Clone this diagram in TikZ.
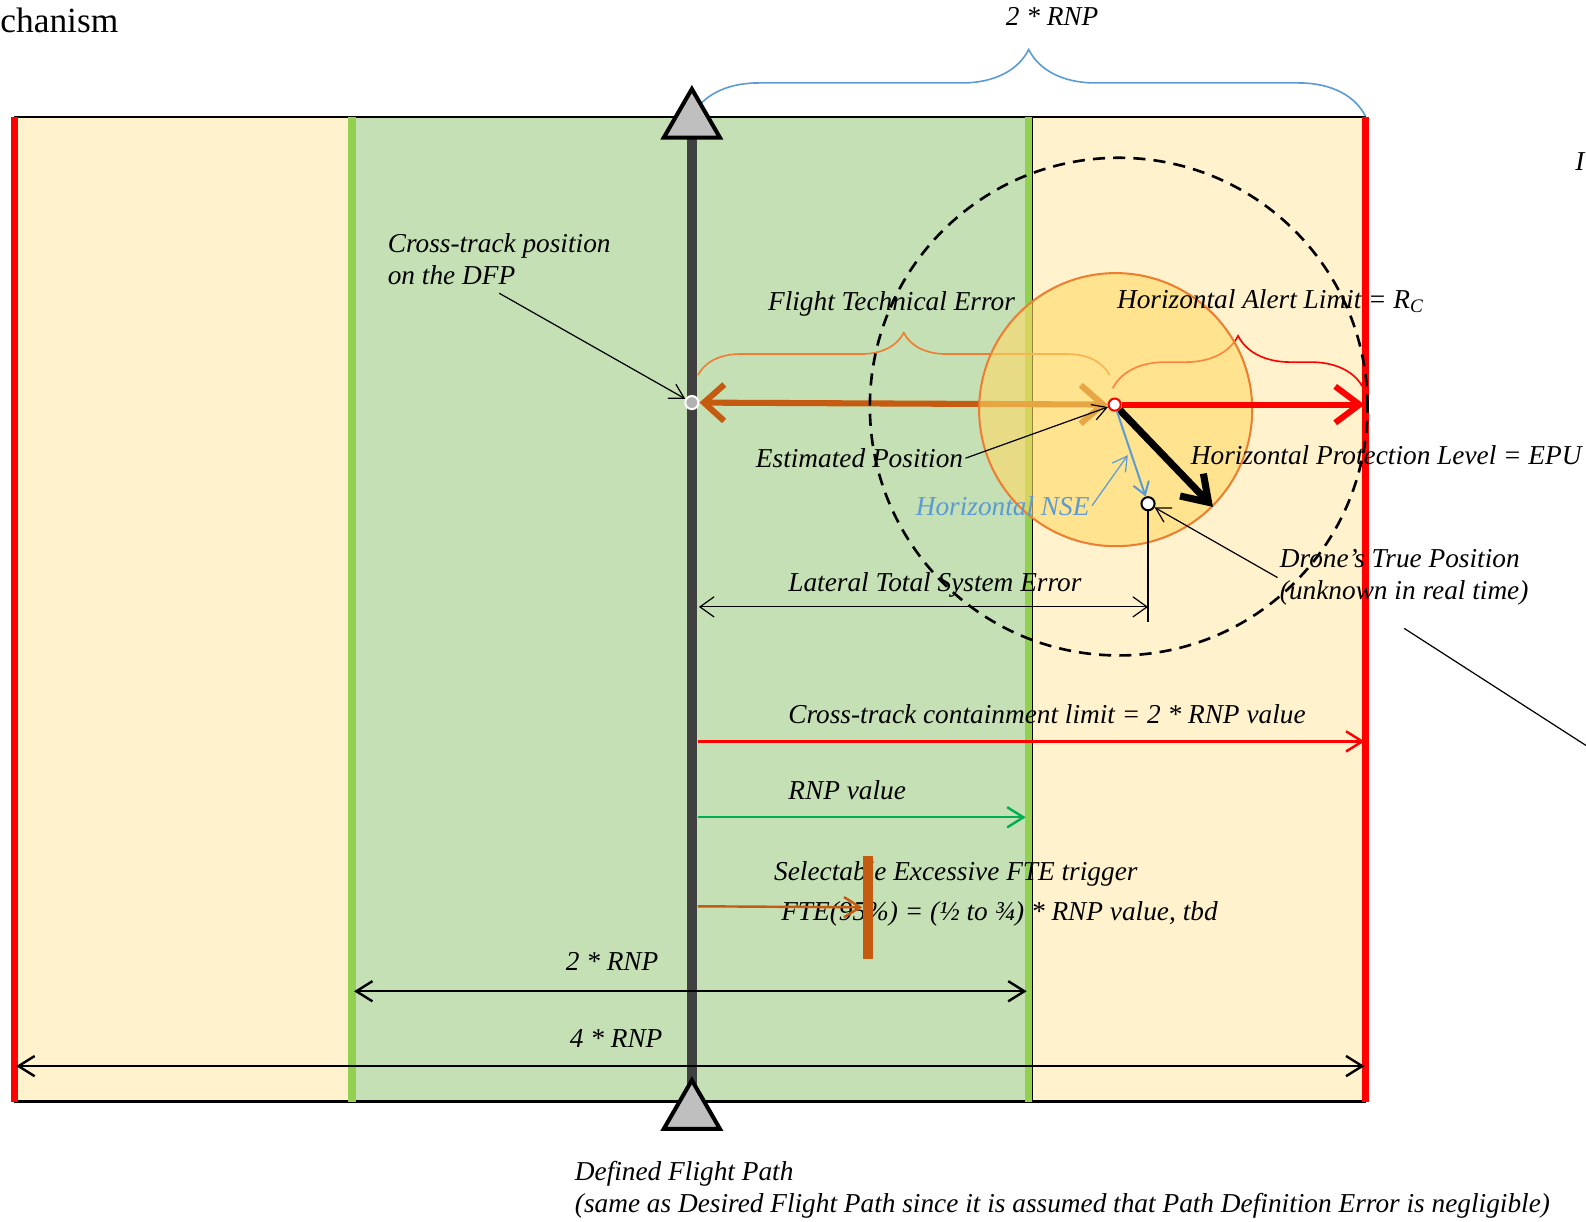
\documentclass[tikz,border=0pt]{standalone}
\usepackage{fontspec}
\setmainfont{Liberation Serif}
\usepackage{xcolor}
\usepackage{tikz}
\usetikzlibrary{positioning, arrows.meta, shapes.geometric, decorations.pathreplacing}
\definecolor{PaleYellow}{RGB}{255,242,204}
\definecolor{PaleGreen}{RGB}{197,224,180}
\definecolor{BarGreen}{RGB}{146,208,80}
\definecolor{PathGray}{RGB}{64,64,64}
\definecolor{TriGray}{RGB}{191,191,191}
\definecolor{DarkOrange}{RGB}{197,90,17}
\definecolor{RingOrange}{RGB}{237,125,49}
\definecolor{HplYellow}{RGB}{255,217,102}
\definecolor{NseBlue}{RGB}{91,155,213}
\definecolor{RnpGreen}{RGB}{0,176,80}
\tikzset{
  lbl/.style={font=\fontsize{13.5}{16}\selectfont\itshape, inner sep=1pt, align=left, anchor=west},
  lead/.style={-{Straight Barb[length=7pt,width=8pt]}, line width=0.6pt},
  dimarr/.style={{Straight Barb[length=8pt,width=10pt]}-{Straight Barb[length=8pt,width=10pt]}, line width=1.2pt},
  onearr/.style={-{Straight Barb[length=8pt,width=10pt]}, line width=1.2pt},
  bar/.style={line width=3.5pt},
  brc/.style={decorate, line width=0.8pt},
  ptmark/.style={circle, inner sep=0pt, minimum size=6.5pt, line width=1pt},
  dfptri/.style={regular polygon, regular polygon sides=3, minimum size=32pt, inner sep=0pt,
    fill=TriGray, draw=black, line width=2pt},
}

\begin{document}
\begin{tikzpicture}[x=0.5pt, y=-0.5pt,
        hplring/.style={circle, minimum size=135pt, inner sep=0pt, fill=HplYellow, fill opacity=0.6,
          draw=RingOrange, line width=1pt},
        dashring/.style={circle, minimum size=246pt, inner sep=0pt, draw, line width=1.3pt,
          dash pattern=on 6pt off 4pt}]
  \useasboundingbox (0,0) rectangle (1568,1208);
  % corridor
  \fill[PaleYellow] (14,116) rectangle (348,1089);
  \fill[PaleGreen] (348,116) rectangle (1019,1089);
  \fill[PaleYellow] (1019,116) rectangle (1350,1089);
  \draw[line width=1pt] (14,116) -- (1350,116);
  \draw[line width=1pt] (14,1089) -- (1350,1089);
  \draw[line width=0.7pt] (1021,116) -- (1021,1089);
  \draw[bar, red] (14,116) -- (14,1089);
  \draw[bar, red] (1350,116) -- (1350,1089);
  \draw[bar, BarGreen] (348,116) -- (348,1089);
  \draw[bar, BarGreen] (1017,116) -- (1017,1089);

  \coordinate (dfptop) at (684,120);
  \coordinate (dfpbot) at (684,1100);
  \draw[line width=5pt, PathGray] (dfptop) -- (dfpbot);

  % braces
  \draw[brc, NseBlue, decoration={brace, amplitude=33pt}] (684,115) -- (1350,115);
  \draw[brc, RingOrange, decoration={brace, amplitude=21pt}] (690,371) -- (1097,371);
  \draw[brc, red, decoration={brace, amplitude=26pt}] (1100,384) -- (1348,384);

  \node[ptmark, fill=gray!60, draw=white] (xt) at (684,398) {};
  \node[ptmark, minimum size=6pt] (est) at (1102,400) {};
  \coordinate (halend) at (1349,400);

  \draw[line width=3pt, DarkOrange, {Straight Barb[length=11pt,width=19pt]}-{Straight Barb[length=10pt,width=18pt]}]
    (est) -- (xt);
  \node[hplring] (hpl) at (1103,405) {};
  \draw[line width=3pt, red, -{Straight Barb[length=12pt,width=18pt]}] (est) -- (halend);
  \node[dashring] (ring) at (1106,402) {};

  \node[ptmark, fill=white, draw=black] (true) at (1135,498) {};
  \draw[line width=3.5pt, -{Straight Barb[length=12pt,width=16pt]}] (est) -- (hpl.-45);
  \draw[line width=1pt, NseBlue, -{Straight Barb[length=6pt,width=8pt]}] (est) -- (true);
  \path[fill=white, draw=red, line width=1pt] (est.center) circle[radius=3pt];

  % labels
  \node[lbl] (mech) at (-2,20) {\fontsize{17.5}{20}\selectfont\upshape chanism};
  \node[lbl] (top) at (992,16) {2 * RNP};
  \node[lbl] (cut) at (1555,160) {I};
  \node[lbl] (xtlab) at (381,256) {Cross-track position\\on the DFP};
  \node[lbl] (fte) at (757,300) {Flight Technical Error};
  \node[lbl] (hal) at (1102,298) {Horizontal Alert Limit = R\textsubscript{\textit{C}}};
  \node[lbl] (eplab) at (745,453) {Estimated Position};
  \node[lbl] (hpllab) at (1175,450) {Horizontal Protection Level = EPU};
  \node[lbl, text=NseBlue] (nse) at (903,500) {Horizontal NSE};
  \node[lbl] (truelab) at (1263,571) {Drone’s True Position\\(unknown in real time)};
  \node[lbl] (tse) at (777,578) {Lateral Total System Error};
  \node[lbl] (ctl) at (777,706) {Cross-track containment limit = 2 * RNP value};
  \node[lbl] (rnp) at (777,781) {RNP value};
  \node[lbl] (trig) at (763,864) {Selectable Excessive FTE trigger};
  \node[lbl] (trigb) at (770,904) {FTE(95\%) = (½ to ¾) * RNP value, tbd};
  \node[lbl] (r2) at (557,951) {2 * RNP};
  \node[lbl] (r4) at (561,1027) {4 * RNP};
  \node[lbl] (dfp) at (566,1176) {Defined Flight Path\\(same as Desired Flight Path since it is assumed that Path Definition Error is negligible)};

  % leaders
  \coordinate (nsetip) at (1115,450);
  \coordinate (offr) at (1568,737);
  \draw[lead] ([yshift=-3pt]xtlab.south) -- (xt);
  \draw[lead] (eplab.east) -- (est);
  \draw[lead, NseBlue] (nse.east) -- (nsetip);
  \draw[lead] (truelab.west) -- (true);
  \draw[line width=0.6pt] ([yshift=-10pt]truelab.south) -- (offr);

  % dimensions
  \coordinate (tsea) at (691,600);
  \coordinate (tsefoot) at (1135,615);
  \draw[line width=0.6pt] (true) -- (tsefoot);
  \draw[line width=0.6pt, {Straight Barb[length=7pt,width=10pt]}-{Straight Barb[length=7pt,width=10pt]}]
    (tsea) -- (tsea -| tsefoot);
  \coordinate (ctla) at (690,733);
  \coordinate (ctlb) at (1349,733);
  \draw[onearr, red] (ctla) -- (ctlb);
  \coordinate (rnpa) at (690,808);
  \coordinate (rnpb) at (1014,808);
  \draw[onearr, RnpGreen] (rnpa) -- (rnpb);
  \node[fill=DarkOrange, minimum width=5pt, minimum height=51pt, inner sep=0pt] (trigbar) at (858,897) {};
  \coordinate (triga) at (690,896);
  \draw[onearr, DarkOrange] (triga) -- (trigbar.west);
  \coordinate (r2a) at (350,980);
  \coordinate (r2b) at (1015,980);
  \draw[dimarr] (r2a) -- (r2b);
  \coordinate (r4a) at (16,1054);
  \coordinate (r4b) at (1349,1054);
  \draw[dimarr] (r4a) -- (r4b);

  \node[dfptri] (toptri) at (dfptop) {};
  \node[dfptri] (bottri) at (dfpbot) {};
\end{tikzpicture}
\end{document}
